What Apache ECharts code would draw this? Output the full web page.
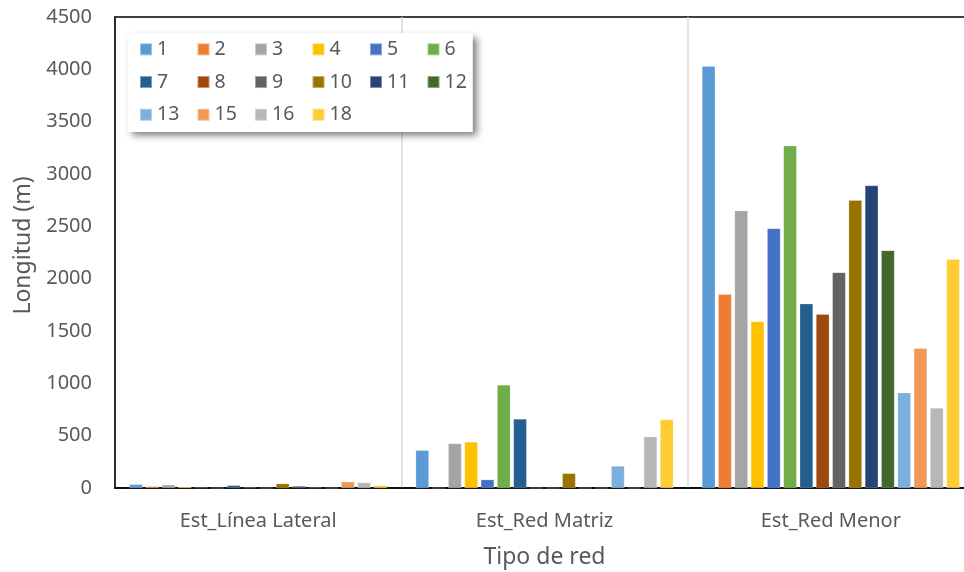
<!DOCTYPE html>
<html>
<head>
<meta charset="utf-8">
<script src="https://cdn.jsdelivr.net/npm/echarts@6/dist/echarts.min.js"></script>
<style>
  html, body { margin: 0; padding: 0; background: #ffffff; }
  #chart { width: 964px; height: 572px; }
</style>
</head>
<body>
<div id="chart"></div>
<script>
// Network types on the category axis
const categories = ['Est_Línea Lateral', 'Est_Red Matriz', 'Est_Red Menor'];

// Station / sector identifiers, one bar series each
const seriesNames = ['1', '2', '3', '4', '5', '6', '7', '8', '9', '10', '11', '12', '13', '15', '16', '18'];

// Length (m) per series, in category order
const v1  = [35, 360, 4030];
const v2  = [15, 0, 1850];
const v3  = [30, 425, 2650];
const v4  = [12, 440, 1590];
const v5  = [5, 80, 2480];
const v6  = [0, 985, 3270];
const v7  = [25, 660, 1760];
const v8  = [5, 0, 1660];
const v9  = [0, 0, 2060];
const v10 = [42, 140, 2750];
const v11 = [18, 0, 2890];
const v12 = [4, 0, 2270];
const v13 = [0, 210, 910];
const v15 = [60, 0, 1335];
const v16 = [52, 490, 765];
const v18 = [25, 655, 2185];

const seriesValues = [v1, v2, v3, v4, v5, v6, v7, v8, v9, v10, v11, v12, v13, v15, v16, v18];

// Y axis scale
const yMin = 0;
const yMax = 4500;
const yStep = 500;

const palette = [
  '#5B9BD5', '#ED7D31', '#A5A5A5', '#FFC000', '#4472C4', '#70AD47',
  '#255E91', '#9E480E', '#636363', '#997300', '#264478', '#43682B',
  '#7CAFDD', '#F1975A', '#B7B7B7', '#FFCD33'
];

const textColor = '#595959';
const font = '"Noto Sans", "Open Sans", sans-serif';

const series = seriesNames.map((name, i) => ({
  name: name,
  type: 'bar',
  data: seriesValues[i],
  barGap: '23%',
  barCategoryGap: '10%',
  itemStyle: {
    color: palette[i],
    borderColor: 'rgba(255,255,255,0.4)',
    borderWidth: 0.5
  }
}));

// Six legend entries per row; the last column gets a narrower label box
const legendData = seriesNames.map((name, i) => (
  i % 6 === 5
    ? { name: name, textStyle: { width: 22 } }
    : { name: name }
));

const chart = echarts.init(document.getElementById('chart'), null, { renderer: 'canvas' });

chart.setOption({
  animation: false,
  color: palette,
  textStyle: { fontFamily: font },
  grid: {
    left: 115,
    top: 17,
    right: -10,
    bottom: 84,
    outerBoundsMode: 'none',
    containLabel: false,
    show: true,
    borderColor: '#000000',
    borderWidth: 1.5,
    backgroundColor: 'transparent'
  },
  legend: {
    data: legendData,
    left: 128,
    top: 33,
    width: 330,
    orient: 'horizontal',
    itemWidth: 12,
    itemHeight: 12,
    itemGap: 0,
    icon: 'rect',
    padding: [0, 6, 1, 11],
    backgroundColor: '#ffffff',
    shadowColor: 'rgba(0,0,0,0.5)',
    shadowBlur: 7,
    shadowOffsetX: 4,
    shadowOffsetY: 4,
    textStyle: {
      color: textColor,
      fontSize: 19.5,
      fontFamily: font,
      width: 39.5,
      lineHeight: 32.7
    }
  },
  xAxis: {
    type: 'category',
    data: categories,
    name: 'Tipo de red',
    nameLocation: 'middle',
    nameGap: 58,
    nameTextStyle: { color: textColor, fontSize: 23, fontFamily: font },
    axisLine: { show: true, lineStyle: { color: '#000000', width: 1.5 } },
    axisTick: { show: false },
    axisLabel: { color: textColor, fontSize: 20, fontFamily: font, margin: 23 },
    splitLine: { show: true, lineStyle: { color: '#D9D9D9', width: 1.5 } }
  },
  yAxis: {
    type: 'value',
    min: yMin,
    max: yMax,
    interval: yStep,
    name: 'Longitud (m)',
    nameLocation: 'middle',
    nameGap: 79,
    nameTextStyle: { color: textColor, fontSize: 23, fontFamily: font, padding: [0, 0, 0, 14] },
    axisLine: { show: true, lineStyle: { color: '#000000', width: 1.5 } },
    axisTick: { show: false },
    axisLabel: {
      color: textColor,
      fontSize: 20,
      fontFamily: font,
      margin: 23,
      formatter: (value) => String(value)
    },
    splitLine: { show: false }
  },
  series: series
});
</script>
</body>
</html>
